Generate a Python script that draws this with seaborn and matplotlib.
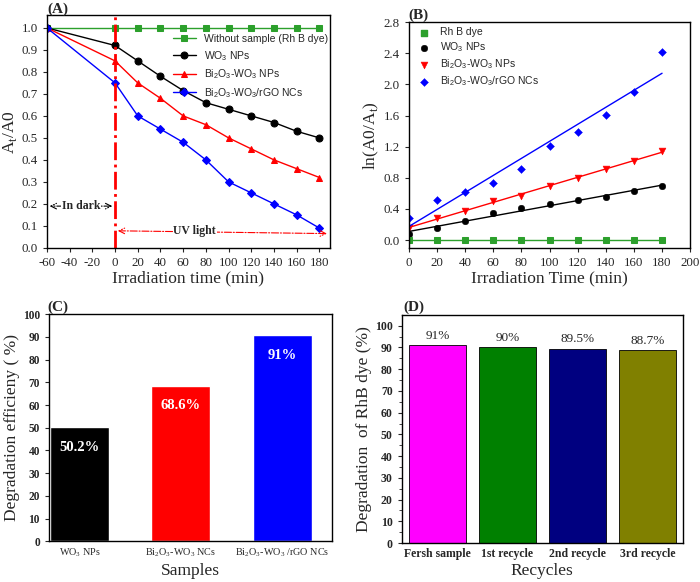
import numpy as np
import pandas as pd
import matplotlib
matplotlib.use("Agg")
import matplotlib.pyplot as plt
import seaborn as sns

sns.set_style("ticks")
plt.rcParams['font.family'] = ['Liberation Serif', 'DejaVu Serif']
plt.rcParams['xtick.direction'] = 'out'
plt.rcParams['ytick.direction'] = 'out'
plt.rcParams['axes.unicode_minus'] = False

# ---- data ----
# (A) At/A0 vs irradiation time
time_a = [-60, 0, 20, 40, 60, 80, 100, 120, 140, 160, 180]
rhb_a = [1.0, 1.0, 1.0, 1.0, 1.0, 1.0, 1.0, 1.0, 1.0, 1.0, 1.0]
wo3_a = [1.0, 0.92, 0.85, 0.78, 0.715, 0.66, 0.63, 0.60, 0.57, 0.53, 0.50]
biwo_a = [1.0, 0.85, 0.75, 0.68, 0.60, 0.56, 0.50, 0.45, 0.40, 0.36, 0.32]
rgo_a = [1.0, 0.75, 0.60, 0.54, 0.48, 0.40, 0.30, 0.25, 0.20, 0.15, 0.09]

# (B) ln(A0/At) kinetics
time_b = [0, 20, 40, 60, 80, 100, 120, 140, 160, 180]
rhb_b = [0, 0, 0, 0, 0, 0, 0, 0, 0, 0]
wo3_b = [0.08, 0.16, 0.24, 0.35, 0.41, 0.46, 0.51, 0.56, 0.63, 0.69]
biwo_b = [0.16, 0.28, 0.38, 0.50, 0.57, 0.69, 0.80, 0.92, 1.02, 1.14]
rgo_b = [0.28, 0.51, 0.62, 0.74, 0.92, 1.21, 1.39, 1.61, 1.90, 2.41]

# (C) degradation efficiency
samples_c = ["WO$_\\mathregular{3}$ NPs", "Bi$_\\mathregular{2}$O$_\\mathregular{3}$-WO$_\\mathregular{3}$ NCs",
             "Bi$_\\mathregular{2}$O$_\\mathregular{3}$-WO$_\\mathregular{3}$ /rGO NCs"]
eff_c = [50.2, 68.6, 91]
eff_lbl = ["50.2%", "68.6%", "91%"]

# (D) recycles
recycles = ["Fersh sample", "1st recycle", "2nd recycle", "3rd recycle"]
deg_d = [91, 90, 89.5, 88.7]
deg_lbl = ["91%", "90%", "89.5%", "88.7%"]

names = ["WO$_\\mathregular{3}$ NPs",
         "Bi$_\\mathregular{2}$O$_\\mathregular{3}$-WO$_\\mathregular{3}$ NPs",
         "Bi$_\\mathregular{2}$O$_\\mathregular{3}$-WO$_\\mathregular{3}$/rGO NCs"]
cols = ["black", "red", "blue"]
sans = ['Liberation Sans', 'DejaVu Sans']

fig = plt.figure(figsize=(7, 5.82), dpi=100)

# ---------- (A) ----------
ax = fig.add_axes([0.067, 0.574, 0.404, 0.400])
series_a = [("Without sample (Rh B dye)", rhb_a, "#2ca02c", "s"),
            (names[0], wo3_a, "black", "o"),
            (names[1], biwo_a, "red", "^"),
            (names[2], rgo_a, "blue", "D")]
for lbl, ys, c, m in series_a:
    sns.lineplot(x=time_a, y=ys, color=c, marker=m, markersize=5 if m != "D" else 4,
                 markeredgecolor=c, lw=1, label=lbl, ax=ax)
ax.axvline(0, color="red", ls="-.", lw=2)
ax.annotate("", xy=(-60, 0.19), xytext=(0, 0.19),
            arrowprops=dict(arrowstyle="<->", ls="-.", color="black", lw=0.8))
ax.text(-30, 0.19, "In dark", ha="center", va="center", fontsize=8.5, fontweight="bold",
        bbox=dict(facecolor="white", edgecolor="none", pad=0.5))
ax.annotate("", xy=(0, 0.078), xytext=(189, 0.065),
            arrowprops=dict(arrowstyle="<->", ls="-.", color="red", lw=0.8))
ax.text(70, 0.075, "UV light", ha="center", va="center", fontsize=8.5, fontweight="bold",
        bbox=dict(facecolor="white", edgecolor="none", pad=0.5))
ax.set_xlim(-60, 189)
ax.set_ylim(0, 1.058)
ax.set_xticks(range(-60, 181, 20))
ax.set_yticks(np.arange(0, 1.01, 0.1))
ax.set_yticklabels([f"{v:.1f}" for v in np.arange(0, 1.01, 0.1)])
ax.tick_params(labelsize=9.3, length=3)
ax.set_xlabel("Irradiation time (min)", fontsize=12.5, labelpad=1)
ax.set_ylabel("A$_\\mathregular{t}$/A0", fontsize=12.5, labelpad=2)
ax.legend(loc="upper right", frameon=False, prop={'family': sans, 'size': 7.5},
          handlelength=2.2, borderaxespad=0.3, labelspacing=0.45, bbox_to_anchor=(1.02, 0.95))

# ---------- (B) ----------
ax = fig.add_axes([0.584, 0.574, 0.402, 0.388])
sns.lineplot(x=time_b, y=rhb_b, color="#2ca02c", marker="s", markersize=4.5,
             markeredgecolor="#2ca02c", lw=1, ax=ax)
ax.scatter([], [], color="#2ca02c", marker="s", s=14, label="Rh B dye")
series_b = [(wo3_b, "o", 22), (biwo_b, "v", 24), (rgo_b, "D", 16)]
for (ys, m, s), lbl, c in zip(series_b, names, cols):
    sns.regplot(x=time_b, y=ys, ci=None, scatter=False, color=c, line_kws=dict(lw=1), ax=ax)
    sns.scatterplot(x=time_b, y=ys, color=c, marker=m, s=s, edgecolor=c, label=lbl, ax=ax)
ax.set_xlim(0, 200)
ax.set_ylim(-0.1, 2.8)
ax.set_xticks(range(0, 201, 20))
ax.set_yticks(np.arange(0, 2.81, 0.4))
ax.set_yticklabels([f"{v:.1f}" for v in np.arange(0, 2.81, 0.4)])
ax.set_xlabel("Irradiation Time (min)", fontsize=12.5, labelpad=1)
ax.set_ylabel("ln(A0/A$_\\mathregular{t}$)", fontsize=12.5, labelpad=2)
ax.tick_params(labelsize=9.3, length=3)
ax.legend(loc="upper left", frameon=False, prop={'family': sans, 'size': 7.5},
          handletextpad=0.5, labelspacing=0.3, borderaxespad=0.3, borderpad=0.2)

# ---------- (C) ----------
ax = fig.add_axes([0.070, 0.070, 0.404, 0.390])
sns.barplot(x=samples_c, y=eff_c, hue=samples_c, palette=cols, saturation=1,
            width=0.58, legend=False, ax=ax)
for i, (v, t) in enumerate(zip(eff_c, eff_lbl)):
    ax.text(i, v - 9, t, ha="center", va="center", color="white", fontsize=10.5,
            fontweight="bold")
ax.set_xlim(-0.3, 2.49)
ax.set_ylim(0, 100)
ax.set_yticks(range(0, 101, 10))
ax.tick_params(axis="y", labelsize=8.3, length=3)
ax.tick_params(axis="x", labelsize=7.3, length=0)
for lab in ax.get_yticklabels():
    lab.set_fontweight("bold")
ax.set_xlabel("Samples", fontsize=12.5, labelpad=3)
ax.set_ylabel("Degradation efficieny ( %)", fontsize=12.5, labelpad=2)

# ---------- (D) ----------
ax = fig.add_axes([0.574, 0.067, 0.401, 0.392])
sns.barplot(x=recycles, y=deg_d, hue=recycles,
            palette=["#ff00ff", "#008000", "#000080", "#808000"], saturation=1,
            width=0.81, edgecolor="black", linewidth=0.6, legend=False, ax=ax)
for i, (v, t) in enumerate(zip(deg_d, deg_lbl)):
    ax.text(i, v + 1.5, t, ha="center", va="bottom", fontsize=9.5)
ax.set_xlim(-0.51, 3.5)
ax.set_ylim(0, 105)
ax.set_yticks(range(0, 101, 10))
ax.set_yticks(range(0, 105, 5), minor=True)
ax.tick_params(axis="y", labelsize=8.5, length=3)
ax.tick_params(axis="y", which="minor", length=2)
ax.tick_params(axis="x", labelsize=8.5, length=0)
for lab in ax.get_xticklabels() + ax.get_yticklabels():
    lab.set_fontweight("bold")
ax.set_xlabel("Recycles", fontsize=12.5, labelpad=2)
ax.set_ylabel("Degradation  of RhB dye (%)", fontsize=12.5, labelpad=2)

for a in fig.axes:
    for sp in a.spines.values():
        sp.set_linewidth(1.0)
        sp.set_color("black")

fig.text(0.067, 0.978, "(A)", fontsize=11, fontweight="bold")
fig.text(0.583, 0.968, "(B)", fontsize=11, fontweight="bold")
fig.text(0.068, 0.466, "(C)", fontsize=11, fontweight="bold")
fig.text(0.576, 0.466, "(D)", fontsize=11, fontweight="bold")

plt.savefig("out.png", dpi=100)
